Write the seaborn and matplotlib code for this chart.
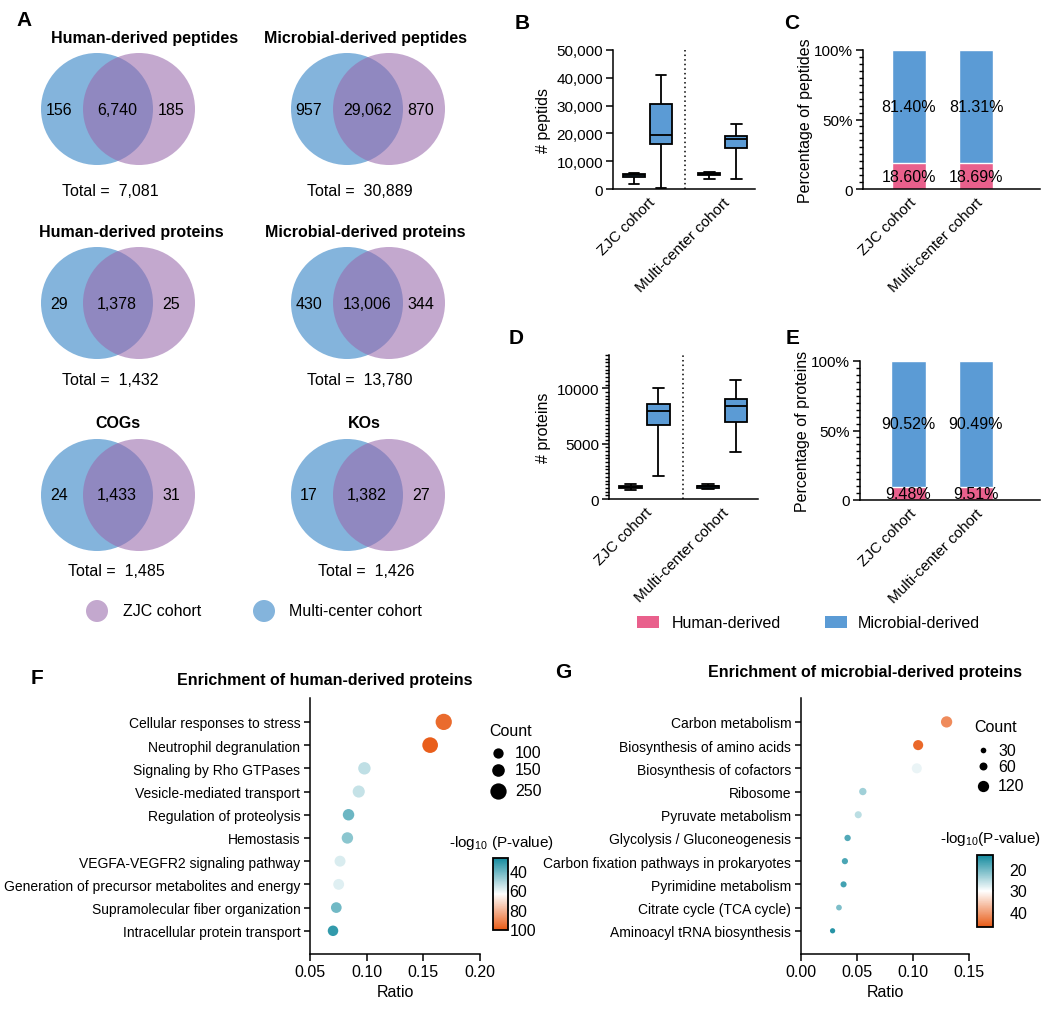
import numpy as np
import pandas as pd
import matplotlib
matplotlib.use('Agg')
import matplotlib.pyplot as plt
import seaborn as sns
from matplotlib.patches import Circle, Rectangle
from matplotlib.colors import LinearSegmentedColormap, Normalize
from matplotlib.ticker import MultipleLocator, FuncFormatter, AutoMinorLocator
import matplotlib.cm as cm

# ---------------- data ----------------
venn_titles = ['Human-derived peptides', 'Microbial-derived peptides',
               'Human-derived proteins', 'Microbial-derived proteins', 'COGs', 'KOs']
venn_multi_only = [156, 957, 29, 430, 24, 17]
venn_shared = [6740, 29062, 1378, 13006, 1433, 1382]
venn_zjc_only = [185, 870, 25, 344, 31, 27]
venn_totals = [7081, 30889, 1432, 13780, 1485, 1426]

cohorts = ['ZJC cohort', 'Multi-center cohort']
sources = ['Human-derived', 'Microbial-derived']

# box summaries: min, q1, median, q3, max
pep_zjc_human = [1675, 4430, 4900, 5380, 5860]
pep_zjc_microbial = [240, 16270, 19260, 30740, 41030]
pep_multi_human = [3470, 5140, 5500, 5860, 6100]
pep_multi_microbial = [3470, 14710, 17820, 19020, 23330]
prot_zjc_human = [790, 1030, 1125, 1185, 1310]
prot_zjc_microbial = [2040, 6660, 7930, 8600, 10000]
prot_multi_human = [910, 1030, 1150, 1215, 1310]
prot_multi_microbial = [4220, 6960, 8420, 9060, 10730]

pep_human_pct = [18.60, 18.69]
pep_microbial_pct = [81.40, 81.31]
prot_human_pct = [9.48, 9.51]
prot_microbial_pct = [90.52, 90.49]

f_terms = ['Cellular responses to stress', 'Neutrophil degranulation', 'Signaling by Rho GTPases',
           'Vesicle-mediated transport', 'Regulation of proteolysis', 'Hemostasis',
           'VEGFA-VEGFR2 signaling pathway', 'Generation of precursor metabolites and energy',
           'Supramolecular fiber organization', 'Intracellular protein transport']
f_ratio = [0.168, 0.156, 0.098, 0.093, 0.084, 0.083, 0.0765, 0.0753, 0.0732, 0.0703]
f_count = [249, 231, 145, 138, 124, 123, 113, 111, 108, 104]
f_logp = [97, 100, 54, 55, 41, 46, 58, 59, 42, 32]

g_terms = ['Carbon metabolism', 'Biosynthesis of amino acids', 'Biosynthesis of cofactors',
           'Ribosome', 'Pyruvate metabolism', 'Glycolysis / Gluconeogenesis',
           'Carbon fixation pathways in prokaryotes', 'Pyrimidine metabolism',
           'Citrate cycle (TCA cycle)', 'Aminoacyl tRNA biosynthesis']
g_ratio = [0.130, 0.1046, 0.1034, 0.0552, 0.0511, 0.0416, 0.0392, 0.0380, 0.0339, 0.0282]
g_count = [120, 96, 95, 51, 47, 38, 36, 35, 31, 26]
g_logp = [42, 45.5, 28.8, 23.5, 25.5, 18, 17.5, 17, 21, 15]

f_legend_counts = [100, 150, 250]
g_legend_counts = [30, 60, 120]

# ---------------- style ----------------
sns.set_style('ticks')
plt.rcParams['font.family'] = ['Liberation Sans', 'DejaVu Sans']
plt.rcParams['mathtext.fontset'] = 'custom'
plt.rcParams['mathtext.rm'] = 'Liberation Sans'
plt.rcParams['mathtext.it'] = 'Liberation Sans:italic'
plt.rcParams['mathtext.bf'] = 'Liberation Sans:bold'
plt.rcParams['axes.linewidth'] = 1.1
plt.rcParams['axes.edgecolor'] = 'black'
plt.rcParams['xtick.color'] = 'black'
plt.rcParams['ytick.color'] = 'black'
plt.rcParams['text.color'] = 'black'
plt.rcParams['axes.labelcolor'] = 'black'
plt.rcParams['xtick.labelcolor'] = 'black'
plt.rcParams['ytick.labelcolor'] = 'black'

BLUE = '#5b9bd5'
PINK = '#e9608c'
VENN_BLUE = '#2b7ec3'
VENN_PURPLE = '#9969ac'
cmap = LinearSegmentedColormap.from_list('tw', ['#138a9e', '#ffffff', '#e85a15'])

W, H = 1046, 1012
fig = plt.figure(figsize=(W / 100, H / 100), dpi=100)


def rect(l, t, r, b):
    return [l / W, 1 - b / H, (r - l) / W, (b - t) / H]


def size_of(c):
    # marker area (pt^2) proportional to count
    return 0.55 * c


def style_axis(ax, size=11):
    sns.despine(ax=ax)
    ax.tick_params(axis='both', which='major', length=5, width=1.1, labelsize=size, pad=2)
    ax.tick_params(axis='both', which='minor', length=3, width=1.0)


# ---------------- B / D: box plots ----------------
def box_panel(ax, groups, ylabel, ymax, fmt, major, minor_n, xlim):
    rows = []
    for c, s, vals in groups:
        for v in vals:
            rows.append({'cohort': c, 'source': s, 'value': v})
    df = pd.DataFrame(rows)
    sns.boxplot(data=df, x='cohort', y='value', hue='source', order=cohorts, hue_order=sources,
                palette={sources[0]: BLUE, sources[1]: BLUE}, whis=(0, 100), width=0.72, gap=0.2,
                saturation=1, linecolor='black', linewidth=1.3, legend=False, ax=ax)
    ax.axvline(0.5, color='black', ls=(0, (1, 2)), lw=1.1)
    ax.set_xlim(*xlim)
    ax.set_ylim(0, ymax)
    ax.yaxis.set_major_locator(MultipleLocator(major))
    if minor_n:
        ax.yaxis.set_minor_locator(AutoMinorLocator(minor_n))
    ax.yaxis.set_major_formatter(FuncFormatter(fmt))
    ax.set_xlabel('')
    ax.set_ylabel(ylabel, fontsize=11.5, labelpad=4)
    style_axis(ax)
    ax.tick_params(axis='x', length=0, pad=4)
    plt.setp(ax.get_xticklabels(), rotation=45, ha='right', rotation_mode='anchor')


axB = fig.add_axes(rect(613, 51, 755, 190))
box_panel(axB, [(cohorts[0], sources[0], pep_zjc_human), (cohorts[0], sources[1], pep_zjc_microbial),
                (cohorts[1], sources[0], pep_multi_human), (cohorts[1], sources[1], pep_multi_microbial)],
          '# peptids', 50000, lambda v, p: f'{v:,.0f}', 10000, 0, (-0.46, 1.43))

axD = fig.add_axes(rect(609, 356, 758, 500))
box_panel(axD, [(cohorts[0], sources[0], prot_zjc_human), (cohorts[0], sources[1], prot_zjc_microbial),
                (cohorts[1], sources[0], prot_multi_human), (cohorts[1], sources[1], prot_multi_microbial)],
          '# proteins', 13000, lambda v, p: f'{v:.0f}', 5000, 15, (-0.458, 1.465))


# ---------------- C / E: stacked bars ----------------
def bar_panel(ax, human, microbial, ylabel, xlim):
    totals = [h + m for h, m in zip(human, microbial)]
    sns.barplot(x=cohorts, y=totals, color=BLUE, width=0.51, saturation=1, errorbar=None, ax=ax)
    sns.barplot(x=cohorts, y=human, color=PINK, width=0.51, saturation=1, errorbar=None, ax=ax)
    for i, (h, m) in enumerate(zip(human, microbial)):
        ax.text(i, h / 2, f'{h:.2f}%', ha='center', va='center', fontsize=11.5)
        ax.text(i, h + m / 2, f'{m:.2f}%', ha='center', va='center', fontsize=11.5)
    ax.set_xlim(*xlim)
    ax.set_ylim(0, 100)
    ax.set_yticks([0, 50, 100])
    ax.set_yticklabels(['0', '50%', '100%'])
    ax.yaxis.set_minor_locator(MultipleLocator(5))
    ax.set_ylabel(ylabel, fontsize=11.5, labelpad=1)
    style_axis(ax)
    ax.tick_params(axis='x', length=0, pad=4)
    plt.setp(ax.get_xticklabels(), rotation=45, ha='right', rotation_mode='anchor')


axC = fig.add_axes(rect(863, 51, 1040, 190))
bar_panel(axC, pep_human_pct, pep_microbial_pct, 'Percentage of peptides', (-0.687, 1.955))
axE = fig.add_axes(rect(860, 362, 1040, 501))
bar_panel(axE, prot_human_pct, prot_microbial_pct, 'Percentage of proteins', (-0.724, 1.96))


# ---------------- F / G: enrichment dot plots ----------------
def dot_panel(ax, terms, ratio, count, logp, hnorm, xlim, xticks):
    df = pd.DataFrame({'term': terms, 'ratio': ratio, 'count': count, 'logp': logp})
    sns.scatterplot(data=df, x='ratio', y='term', hue='logp', size='count', palette=cmap,
                    hue_norm=hnorm, sizes=(0, size_of(300)), size_norm=(0, 300),
                    linewidth=0, legend=False, ax=ax)
    ax.set_xlim(*xlim)
    ax.set_ylim(10.0, -1.03)
    ax.set_xticks(xticks)
    ax.xaxis.set_major_formatter(FuncFormatter(lambda v, p: f'{v:.2f}'))
    ax.set_xlabel('Ratio', fontsize=11.5, labelpad=4)
    ax.set_ylabel('')
    style_axis(ax, 11.5)
    ax.tick_params(axis='y', labelsize=10, length=4, pad=3)


axF = fig.add_axes(rect(310, 699, 480, 955))
dot_panel(axF, f_terms, f_ratio, f_count, f_logp, (27, 101), (0.05, 0.20), [0.05, 0.10, 0.15, 0.20])
axG = fig.add_axes(rect(801, 699, 969, 955))
dot_panel(axG, g_terms, g_ratio, g_count, g_logp, (13.5, 47), (0.0, 0.15), [0.0, 0.05, 0.10, 0.15])

caxF = fig.add_axes(rect(493, 859, 508, 931))
cbF = fig.colorbar(cm.ScalarMappable(norm=Normalize(27, 101), cmap=cmap), cax=caxF, ticks=[40, 60, 80, 100])
caxF.invert_yaxis()
cbF.outline.set_linewidth(1.3)
caxF.tick_params(labelsize=11.5, length=3, width=1, direction='in', pad=1)

caxG = fig.add_axes(rect(977, 856, 993, 928))
cbG = fig.colorbar(cm.ScalarMappable(norm=Normalize(13.5, 47), cmap=cmap), cax=caxG, ticks=[20, 30, 40])
caxG.invert_yaxis()
cbG.outline.set_linewidth(1.3)
caxG.tick_params(labelsize=11.5, length=3, width=1, direction='in', left=True, right=True, pad=12)

# ---------------- overlay: venns, letters, legends ----------------
ov = fig.add_axes([0, 0, 1, 1])
ov.set_xlim(0, W)
ov.set_ylim(H, 0)
ov.axis('off')
ov.patch.set_alpha(0)

col_x = [97, 347]
row_y = [110, 304, 496]
title_y = [38, 232, 424]
total_y = [191, 380, 571]
title_dx = [27, -3, 13, -3, 0, -4]
R = 56
for k in range(6):
    r, c = divmod(k, 2)
    bx, cy = col_x[c], row_y[r]
    px = bx + 42
    ov.add_patch(Circle((bx, cy), R, facecolor=VENN_BLUE, alpha=0.58, lw=0))
    ov.add_patch(Circle((px, cy), R, facecolor=VENN_PURPLE, alpha=0.58, lw=0))
    ov.text(bx - 38, cy, f'{venn_multi_only[k]:,}', ha='center', va='center', fontsize=11.5)
    ov.text(bx + 20, cy, f'{venn_shared[k]:,}', ha='center', va='center', fontsize=11.5)
    ov.text(bx + 74, cy, f'{venn_zjc_only[k]:,}', ha='center', va='center', fontsize=11.5)
    ov.text(bx + 21 + title_dx[k], title_y[r], venn_titles[k], ha='center', va='center',
            fontsize=11.5, fontweight='bold')
    ov.text(bx + 13 + (6 if r == 2 else 0), total_y[r], f'Total =  {venn_totals[k]:,}',
            ha='center', va='center', fontsize=11.5)

ov.add_patch(Circle((97, 612), 11, facecolor=VENN_PURPLE, alpha=0.58, lw=0))
ov.text(123, 612, cohorts[0], va='center', fontsize=11.5)
ov.add_patch(Circle((264, 612), 11, facecolor=VENN_BLUE, alpha=0.58, lw=0))
ov.text(289, 612, cohorts[1], va='center', fontsize=11.5)

# bar legend
ov.add_patch(Rectangle((637, 617), 22, 12, facecolor=PINK, lw=0))
ov.text(672, 623, sources[0], va='center', fontsize=11.5)
ov.add_patch(Rectangle((825, 617), 22, 12, facecolor=BLUE, lw=0))
ov.text(858, 623, sources[1], va='center', fontsize=11.5)

# panel letters
for letter, x, y in [('A', 24, 20), ('B', 522, 23), ('C', 792, 23), ('D', 516, 338),
                     ('E', 793, 338), ('F', 37, 678), ('G', 563, 673)]:
    ov.text(x, y, letter, ha='center', va='center', fontsize=15, fontweight='bold')

# F/G titles
ov.text(325, 680, 'Enrichment of human-derived proteins', ha='center', va='center',
        fontsize=11.5, fontweight='bold')
ov.text(865, 672, 'Enrichment of microbial-derived proteins', ha='center', va='center',
        fontsize=11.5, fontweight='bold')

# count legends
for cx, lx, ty, ys, vals in [(498, 515, 731, [754, 771, 792], f_legend_counts),
                             (983, 998, 727, [751, 767, 787], g_legend_counts)]:
    ov.text(cx - 9, ty, 'Count', va='center', fontsize=11.5)
    for yy, v in zip(ys, vals):
        ov.scatter([cx], [yy], s=size_of(v), color='black', lw=0)
        ov.text(lx, yy, str(v), va='center', fontsize=11.5)

# colour bar titles
ov.text(449, 843, '-log$_{10}$ (P-value)', va='center', fontsize=11)
ov.text(940, 839, '-log$_{10}$(P-value)', va='center', fontsize=11)

fig.savefig('out.png', dpi=100)
